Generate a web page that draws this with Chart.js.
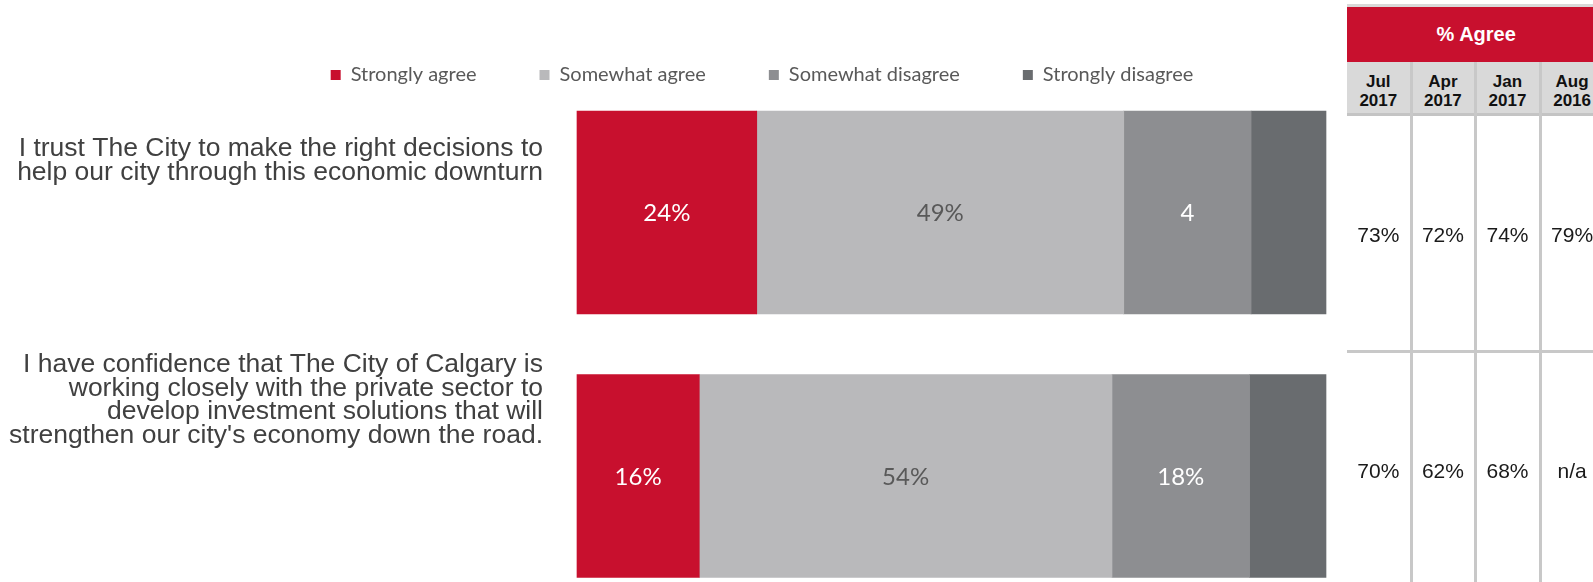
<!DOCTYPE html>
<html>
<head>
<meta charset="utf-8">
<script src="https://cdn.jsdelivr.net/npm/chart.js@4.4.1/dist/chart.umd.min.js"></script>
<style>
  html, body { margin: 0; padding: 0; width: 1593px; height: 582px; overflow: hidden; background: #fff; }
  #wrap { position: absolute; left: 0; top: -6px; width: 1593px; height: 588px; }
  #tbl { position: absolute; left: 0; top: 0; width: 1593px; height: 582px; font-family: "Liberation Sans", Arial, sans-serif; pointer-events: none; }
  #tbl div { position: absolute; box-sizing: border-box; }
  .cellText { display: flex; align-items: center; justify-content: center; text-align: center; }
</style>
</head>
<body>
<div id="wrap"><canvas id="c" width="1593" height="588"></canvas></div>
<div id="tbl"></div>
<script>
// ---------- DATA ----------
const categories = [
  ["I trust The City to make the right decisions to", "help our city through this economic downturn"],
  ["I have confidence that The City of Calgary is", "working closely with the private sector to", "develop investment solutions that will", "strengthen our city's economy down the road."]
];
const seriesNames = ["Strongly agree", "Somewhat agree", "Somewhat disagree", "Strongly disagree"];
const stronglyAgree = [24, 16];
const somewhatAgree = [49, 54];
const somewhatDisagree = [17, 18];
const stronglyDisagree = [10, 10];
// labels printed inside the segments (as shown in the picture)
const stronglyAgreeLabels = ["24%", "16%"];
const somewhatAgreeLabels = ["49%", "54%"];
const somewhatDisagreeLabels = ["4", "18%"];
const stronglyDisagreeLabels = ["", ""];
// side table
const tableTitle = "% Agree";
const tableWaves = [["Jul", "2017"], ["Apr", "2017"], ["Jan", "2017"], ["Aug", "2016"]];
const tableRow1 = ["73%", "72%", "74%", "79%"];
const tableRow2 = ["70%", "62%", "68%", "n/a"];

// ---------- CHART ----------
const totals = categories.map((_, i) => stronglyAgree[i] + somewhatAgree[i] + somewhatDisagree[i] + stronglyDisagree[i]);
const share = arr => arr.map((v, i) => v / totals[i] * 100);
const colors = ["#C8102E", "#B9B9BB", "#8D8E91", "#696C6F"];
const labelColors = ["#FFFFFF", "#595959", "#FFFFFF", "#FFFFFF"];
const seriesValues = [stronglyAgree, somewhatAgree, somewhatDisagree, stronglyDisagree];
const seriesLabels = [stronglyAgreeLabels, somewhatAgreeLabels, somewhatDisagreeLabels, stronglyDisagreeLabels];
const extraLines = [0, 2];

const segLabelPlugin = {
  id: 'segLabels',
  afterDatasetsDraw(chart) {
    const c = chart.ctx;
    chart.data.datasets.forEach((ds, di) => {
      const meta = chart.getDatasetMeta(di);
      meta.data.forEach((bar, i) => {
        const txt = seriesLabels[di][i];
        if (!txt) return;
        const p = bar.getProps(['x', 'y', 'base'], true);
        c.save();
        c.fillStyle = labelColors[di];
        c.font = '24px Lato';
        c.textAlign = 'center';
        c.textBaseline = 'middle';
        c.fillText(txt, (p.x + p.base) / 2, p.y + 1);
        c.restore();
      });
    });
  }
};

new Chart(document.getElementById('c'), {
  type: 'bar',
  data: {
    labels: categories,
    datasets: seriesNames.map((n, k) => ({
      label: n,
      data: share(seriesValues[k]),
      backgroundColor: colors[k],
      borderWidth: 0,
      barThickness: 203,
      clip: false
    }))
  },
  options: {
    indexAxis: 'y',
    responsive: false,
    animation: false,
    devicePixelRatio: 1,
    layout: { padding: { left: 0, right: 69, top: 8, bottom: 106 } },
    scales: {
      x: {
        type: 'linear', stacked: true, min: 0, max: 100, position: 'top',
        ticks: { display: false },
        grid: { display: false, drawTicks: false },
        border: { display: false },
        afterFit(s) { s.height = 218.5 - 8 - s.chart.legend.height; }
      },
      y: {
        type: 'category', stacked: true, offset: false,
        grid: { display: false, drawTicks: false },
        border: { display: false },
        ticks: {
          autoSkip: false,
          padding: 34,
          labelOffset: -52,
          color: '#404040',
          font: { family: '"Liberation Sans", Arial, sans-serif', size: 26.5, lineHeight: 23.7 / 26.5 },
          callback(v, i) { return categories[i].concat(Array(extraLines[i]).fill('')); }
        },
        afterFit(s) { s.width = 577; }
      },
      yRight: {
        type: 'category', position: 'right', offset: false,
        grid: { display: false, drawTicks: false },
        border: { display: false },
        ticks: { display: false },
        afterFit(s) { s.width = 198; }
      }
    },
    plugins: {
      legend: {
        position: 'top',
        labels: { boxWidth: 10, boxHeight: 10, padding: 63, color: '#595959', font: { family: 'Lato', size: 20 } }
      },
      tooltip: { enabled: false }
    }
  },
  plugins: [segLabelPlugin]
});

// ---------- TABLE ----------
(function () {
  const t = document.getElementById('tbl');
  const add = (x, y, w, h, css, html) => {
    const d = document.createElement('div');
    d.style.left = x + 'px'; d.style.top = y + 'px'; d.style.width = w + 'px'; d.style.height = h + 'px';
    if (css) d.style.cssText += css;
    if (html !== undefined) { d.className = 'cellText'; d.innerHTML = html; }
    t.appendChild(d);
    return d;
  };
  const left = 1347, pitch = 64.6, width = pitch * tableWaves.length;
  add(left, 4, width, 3, 'background:#D9D9D9;');
  add(left, 7, width, 55, 'background:#C8102E;color:#fff;font-weight:bold;font-size:20px;', tableTitle);
  add(left, 62, width, 53, 'background:#D9D9D9;');
  add(left, 113, width, 3, 'background:#C4C4C4;');
  add(left, 350, width, 3, 'background:#C8C8C8;');
  for (let k = 1; k < tableWaves.length; k++) {
    add(left + pitch * k - 2, 62, 3, 520, 'background:#C8C8C8;');
  }
  tableWaves.forEach((w, k) => {
    const x = left + pitch * k;
    add(x, 66, pitch - 2, 50, 'color:#111;font-weight:bold;font-size:17px;line-height:19px;', w.join('<br>'));
    add(x, 118, pitch - 2, 234, 'color:#1a1a1a;font-size:21px;', tableRow1[k]);
    add(x, 354, pitch - 2, 234, 'color:#1a1a1a;font-size:21px;', tableRow2[k]);
  });
})();
</script>
</body>
</html>
